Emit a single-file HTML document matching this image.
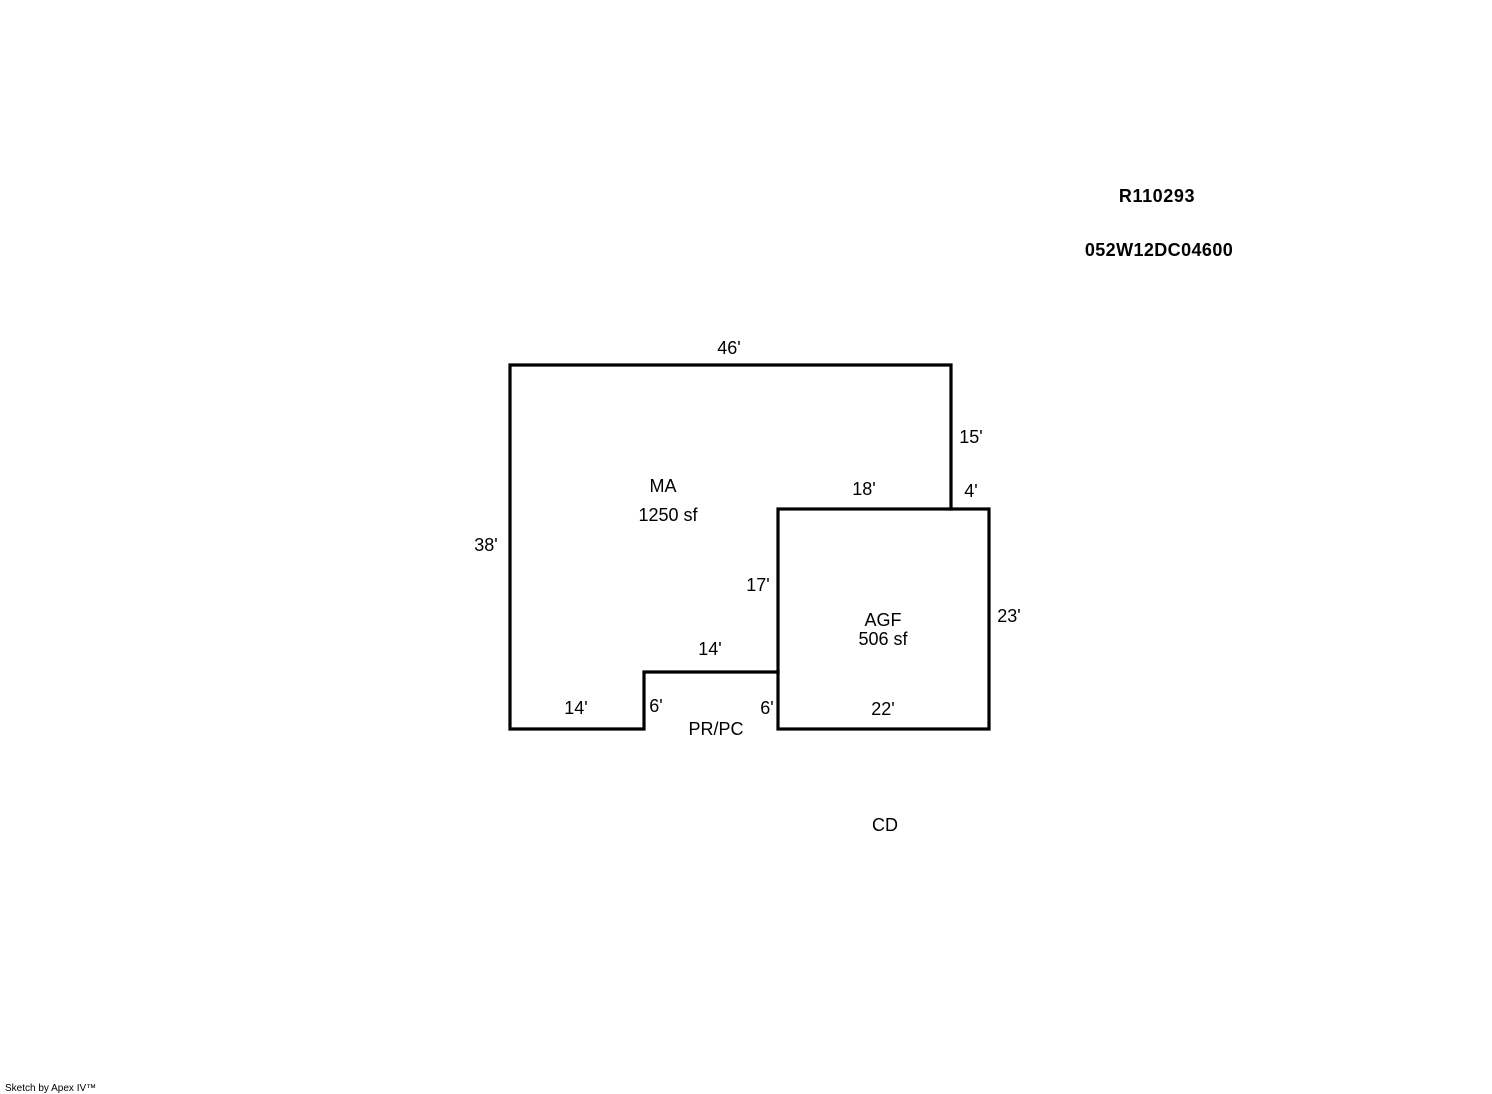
<!DOCTYPE html>
<html><head><style>
body{margin:0;background:#fff;}
svg{display:block}
text{font-family:"Liberation Sans",Arial,sans-serif;font-size:18px;fill:#000}
</style></head><body>
<svg width="1492" height="1094" viewBox="0 0 1492 1094" xmlns="http://www.w3.org/2000/svg">
<g fill="none" stroke="#000" stroke-width="3.2" stroke-linejoin="miter" stroke-linecap="square">
<polyline points="951,509 951,365 510,365 510,729 644,729 644,672 778,672"/>
<rect x="778" y="509" width="211" height="220"/>
</g>
<g text-anchor="middle">
<text x="1157" y="202" font-weight="bold" style="font-size:18px;letter-spacing:0.6px">R110293</text>
<text x="1159" y="256" font-weight="bold" style="font-size:18px;letter-spacing:0.4px">052W12DC04600</text>
<text x="729" y="354">46'</text>
<text x="971" y="443">15'</text>
<text x="864" y="495">18'</text>
<text x="971" y="497">4'</text>
<text x="663" y="492">MA</text>
<text x="668" y="521">1250 sf</text>
<text x="486" y="551">38'</text>
<text x="758" y="591">17'</text>
<text x="883" y="626">AGF</text>
<text x="883" y="645">506 sf</text>
<text x="1009" y="622">23'</text>
<text x="710" y="655">14'</text>
<text x="576" y="714">14'</text>
<text x="656" y="712">6'</text>
<text x="767" y="714">6'</text>
<text x="883" y="715">22'</text>
<text x="716" y="735">PR/PC</text>
<text x="885" y="831">CD</text>
</g>
<text x="5" y="1091" style="font-size:10px">Sketch by Apex IV™</text>
</svg>
</body></html>
